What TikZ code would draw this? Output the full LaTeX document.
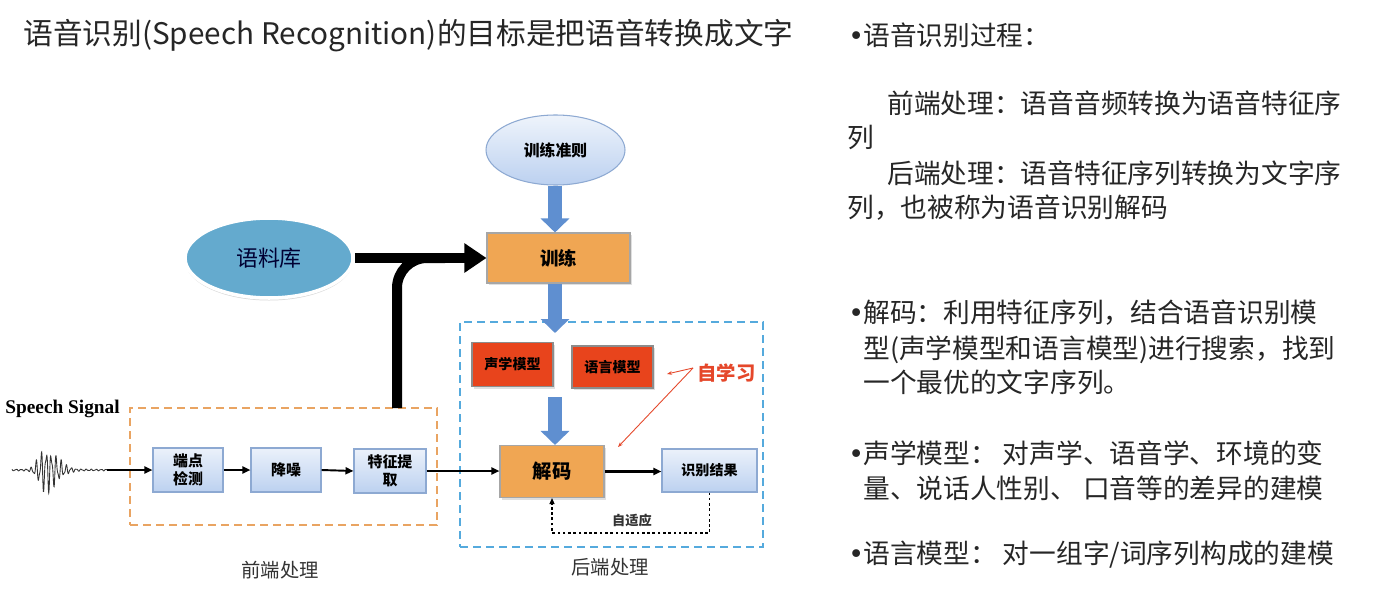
\documentclass[tikz,border=0pt]{standalone}
\usepackage{fontspec}
\setmainfont{Noto Sans CJK SC}
\newfontfamily\signalfont{Liberation Serif}
\newfontfamily\bulfont{DejaVu Sans}
\usetikzlibrary{arrows.meta,shapes.geometric,shadows}

\definecolor{trainorange}{HTML}{F0A653}
\definecolor{modelred}{HTML}{E8441C}
\definecolor{stepblue}{HTML}{BCD1F0}
\definecolor{stepborder}{HTML}{8DA9D2}
\definecolor{corpusblue}{HTML}{64AACE}
\definecolor{flowblue}{HTML}{5F8FD0}
\definecolor{frontdash}{HTML}{E9A462}
\definecolor{backdash}{HTML}{55AADD}
\definecolor{learnred}{HTML}{E5472A}

\newcommand{\bul}{\makebox[0.30cm][l]{\bulfont •}}

\tikzset{
  stepbox/.style={draw=stepborder, line width=0.6pt, top color=stepblue!30!white, bottom color=stepblue,
    minimum width=1.40cm, minimum height=0.88cm, align=center, inner sep=0pt,
    font=\fontsize{8.5}{10}\selectfont\bfseries},
  orangebox/.style={draw=black!35, line width=0.6pt, fill=trainorange, inner sep=0pt,
    drop shadow={opacity=0.25, shadow xshift=0.04cm, shadow yshift=-0.04cm},
    font=\fontsize{11}{13}\selectfont\bfseries},
  redbox/.style={draw=black!45, line width=0.6pt, fill=modelred, inner sep=0pt,
    minimum width=1.62cm, minimum height=0.88cm,
    drop shadow={opacity=0.25, shadow xshift=0.04cm, shadow yshift=-0.04cm},
    font=\fontsize{8}{10}\selectfont\bfseries},
  framebox/.style={line width=1.2pt, dash pattern=on 0.16cm off 0.10cm, inner sep=0pt},
  flowarrow/.style={draw=flowblue, line width=0.28cm, -{Triangle[length=0.28cm,width=0.56cm]}},
  bigarrow/.style={line width=0.2cm, -{Triangle[length=0.44cm,width=0.56cm]}},
  thinarrow/.style={line width=1.1pt, -{Triangle[length=0.16cm,width=0.14cm]}},
  rtext/.style={anchor=west, inner sep=0pt, text=black!85, font=\fontsize{15.2}{18}\selectfont},
  label/.style={inner sep=0pt, font=\fontsize{11}{13}\selectfont, text=black!80},
}

\begin{document}
\begin{tikzpicture}
            \useasboundingbox (0,0) rectangle (27.98,11.94);
            \fill [white] (0,0) rectangle (27.98,11.94);%
            {\footnotesize

            % Drawing title
            \draw (0.46,11.22) node (title) [anchor=west, inner sep=0pt, text=black!85, font=\fontsize{16.9}{20}\selectfont] {语音识别(Speech Recognition)的目标是把语音转换成文字};%

            % Drawing dashed frames
            \draw (5.67,2.61) node (front) [framebox, draw=frontdash, minimum width=6.14cm, minimum height=2.34cm] {};%
            \draw (12.23,3.25) node (back) [framebox, draw=backdash, minimum width=6.06cm, minimum height=4.50cm] {};%
            \draw (5.60,0.54) node (fronttxt) [label] {前端处理};%
            \draw (12.20,0.60) node (backtxt) [label] {后端处理};%

            % Drawing ellipses
            \draw (11.11,8.94) node (criterion) [ellipse, draw=stepborder, line width=0.6pt, top color=stepblue!25!white, bottom color=stepblue, minimum width=2.78cm, minimum height=1.40cm, inner sep=0pt, font=\fontsize{9}{11}\selectfont\bfseries] {训练准则};%
            \draw (5.38,6.78) node (corpus) [ellipse, draw=white, line width=2pt, fill=corpusblue, minimum width=3.36cm, minimum height=1.60cm, inner sep=0pt, drop shadow={opacity=0.3, shadow xshift=0cm, shadow yshift=-0.05cm}, font=\fontsize{12.5}{14}\selectfont, text=black!80!blue] {语料库};%

            % Drawing boxes
            \draw (11.17,6.78) node (train) [orangebox, minimum width=2.86cm, minimum height=1.0cm, font=\fontsize{10.5}{12}\selectfont\bfseries] {训练};%
            \draw (10.25,4.65) node (acoustic) [redbox] {声学模型};%
            \draw (12.25,4.60) node (langmodel) [redbox, minimum height=0.84cm] {语言模型};%
            \draw (11.04,2.51) node (decode) [orangebox, minimum width=2.08cm, minimum height=1.04cm] {解码};%
            \draw (14.19,2.53) node (result) [stepbox, minimum width=1.90cm, minimum height=0.86cm, font=\fontsize{8}{10}\selectfont\bfseries] {识别结果};%
            \draw (3.76,2.54) node (endpoint) [stepbox] {端点\\检测};%
            \draw (5.72,2.54) node (denoise) [stepbox] {降噪};%
            \draw (7.80,2.52) node (feature) [stepbox, minimum width=1.44cm] {特征提\\取};%

            % Drawing blue flow arrows
            \draw [flowarrow] (criterion.south -| 11.10,0) -- (train.north -| 11.10,0);%
            \draw [flowarrow] (train.south -| 11.10,0) -- (11.10,5.28);%
            \draw [flowarrow] (11.10,4.00) -- (decode.north -| 11.10,0);%

            % Drawing corpus arrow and rising line
            \coordinate (rise) at (7.94,3.78);%
            \coordinate (merge) at (8.90,6.78);%
            \draw [bigarrow] (corpus.east) -- (corpus.east -| train.west);%
            \draw [line width=0.2cm, rounded corners=0.6cm] (rise) |- (merge);%

            % Drawing speech signal
            \draw (0.10,3.76) node (signal) [anchor=west, inner sep=0pt, font=\signalfont\fontsize{11}{13}\selectfont\bfseries] {Speech Signal};%
            \draw [line width=0.5pt, black!80] plot [domain=12:107, samples=500]
              ({\x/50}, {2.54 + ((\x<45) ? (0.8+21*exp(-min(9,((\x-45)/9)*((\x-45)/9)))) : (0.8+21*exp(-min(9,((\x-45)/17)*((\x-45)/17)))))/50*(0.8*sin(72*\x)+0.3*sin(131*\x))});%
            \coordinate (wave) at (2.14,2.54);%

            % Drawing thin arrows
            \draw [thinarrow] (wave) -- (endpoint.west);%
            \draw [thinarrow] (endpoint.east) -- (denoise.west);%
            \draw [thinarrow] (denoise.east) -- (feature.west);%
            \draw [thinarrow] (feature.east) -- (feature.east -| decode.west);%
            \draw [thinarrow, line width=1.4pt] (decode.east) -- (decode.east -| result.west);%

            % Drawing adaptation loop
            \draw [line width=0.6pt, dash pattern=on 1.5pt off 1.5pt, -{Triangle[length=0.12cm,width=0.1cm]}] (result.south) -- (14.19,1.28) -| (decode.south);%
            \draw (12.64,1.54) node (adapt) [inner sep=0pt, font=\fontsize{7.5}{9}\selectfont\bfseries, text=black!80] {自适应};%

            % Drawing self learning marks
            \draw (13.94,4.48) node (learn) [anchor=west, inner sep=0pt, text=learnred, font=\fontsize{11}{13}\selectfont\bfseries] {自学习};%
            \coordinate (fork) at (13.86,4.58);%
            \coordinate (tipA) at (13.34,4.46);%
            \coordinate (tipB) at (12.36,3.00);%
            \draw [learnred, line width=0.5pt, -{Stealth[length=0.1cm]}] (fork) -- (tipA);%
            \draw [learnred, line width=0.5pt, -{Stealth[length=0.1cm]}] (fork) -- (tipB);%

            % Drawing right text
            \draw (16.96,11.24) node (r1) [rtext] {\bul 语音识别过程：};%
            \draw (17.74,9.88) node (r2) [rtext] {前端处理：语音音频转换为语音特征序};%
            \draw (16.94,9.20) node (r3) [rtext] {列};%
            \draw (17.74,8.48) node (r4) [rtext] {后端处理：语音特征序列转换为文字序};%
            \draw (16.94,7.78) node (r5) [rtext] {列，也被称为语音识别解码};%
            \draw (16.96,5.68) node (r6) [rtext] {\bul 解码：利用特征序列，结合语音识别模};%
            \draw (17.26,4.94) node (r7) [rtext] {型(声学模型和语言模型)进行搜索，找到};%
            \draw (17.26,4.30) node (r8) [rtext] {一个最优的文字序列。};%
            \draw (16.96,2.88) node (r9) [rtext] {\bul 声学模型： 对声学、语音学、环境的变};%
            \draw (17.26,2.18) node (r10) [rtext] {量、说话人性别、 口音等的差异的建模};%
            \draw (16.96,0.84) node (r11) [rtext] {\bul 语言模型： 对一组字/词序列构成的建模};%

            }
\end{tikzpicture}
\end{document}
